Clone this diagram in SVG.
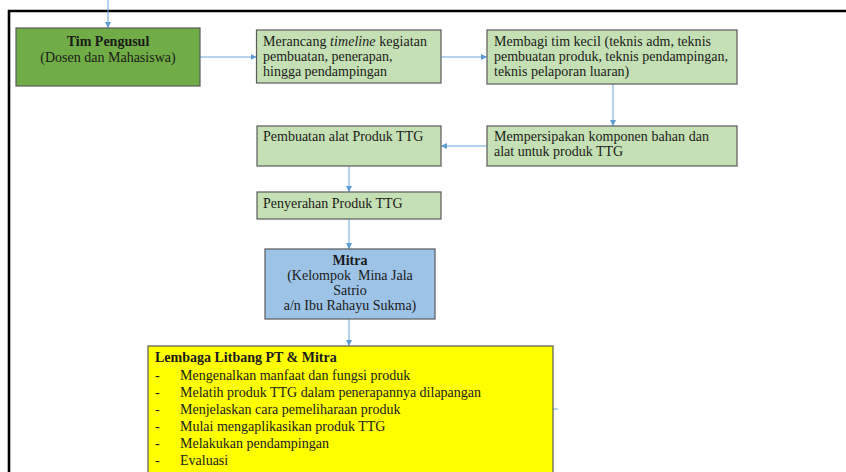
<svg xmlns="http://www.w3.org/2000/svg" width="846" height="472" viewBox="0 0 846 472">
<style>
.box{stroke:#5a5a5a;stroke-width:1.2}
.g{fill:#c5e0b4}
.t{font-family:"Liberation Serif","Times New Roman",serif;font-size:14px;fill:#1a1a1a}
.b{font-weight:bold}
.c{text-anchor:middle}
.con{stroke:#6fa8dc;stroke-width:1;fill:none}
</style>
<defs>
<marker id="ah" viewBox="0 0 6 6" refX="6" refY="3" markerWidth="6" markerHeight="6" orient="auto" markerUnits="userSpaceOnUse">
<path d="M0,0 L6,3 L0,6 z" fill="#5b9bd5"/>
</marker>
</defs>
<rect width="846" height="472" fill="#ffffff"/>
<g id="frame">
<line x1="8" y1="11" x2="846" y2="11" stroke="#000" stroke-width="2.6"/>
<line x1="9" y1="10" x2="9" y2="472" stroke="#000" stroke-width="2.6"/>
</g>
<g id="connectors">
<line class="con" x1="108" y1="0" x2="108" y2="28" marker-end="url(#ah)"/>
<line class="con" x1="200" y1="57" x2="256.5" y2="57" marker-end="url(#ah)"/>
<line class="con" x1="441" y1="57" x2="487" y2="57" marker-end="url(#ah)"/>
<line class="con" x1="613" y1="84" x2="613" y2="126" marker-end="url(#ah)"/>
<line class="con" x1="487" y1="146" x2="441" y2="146" marker-end="url(#ah)"/>
<line class="con" x1="349" y1="166" x2="349" y2="192" marker-end="url(#ah)"/>
<line class="con" x1="349" y1="219" x2="349" y2="249" marker-end="url(#ah)"/>
<line class="con" x1="349" y1="319" x2="349" y2="346" marker-end="url(#ah)"/>
<line class="con" x1="553" y1="409" x2="558" y2="409"/>
</g>
<g id="tim-pengusul">
<rect class="box" x="16" y="28" width="184" height="58" fill="#70ad47"/>
<text class="t b c" x="108" y="46">Tim Pengusul</text>
<text class="t c" x="108" y="62">(Dosen dan Mahasiswa)</text>
</g>
<g id="merancang">
<rect class="box g" x="256.5" y="30" width="184.5" height="53"/>
<text class="t" x="263" y="46" textLength="164" lengthAdjust="spacing">Merancang <tspan font-style="italic">timeline</tspan> kegiatan</text>
<text class="t" x="263" y="61">pembuatan, penerapan,</text>
<text class="t" x="263" y="76">hingga pendampingan</text>
</g>
<g id="membagi">
<rect class="box g" x="487" y="30" width="250" height="54"/>
<text class="t" x="494" y="46" textLength="217" lengthAdjust="spacing">Membagi tim kecil (teknis adm, teknis</text>
<text class="t" x="494" y="61" textLength="234" lengthAdjust="spacing">pembuatan produk, teknis pendampingan,</text>
<text class="t" x="494" y="76">teknis pelaporan luaran)</text>
</g>
<g id="mempersiapkan">
<rect class="box g" x="487" y="126" width="250" height="40"/>
<text class="t" x="494" y="141" textLength="215" lengthAdjust="spacing">Mempersipakan komponen bahan dan</text>
<text class="t" x="494" y="156">alat untuk produk TTG</text>
</g>
<g id="pembuatan">
<rect class="box g" x="257" y="126" width="184" height="40"/>
<text class="t" x="263" y="141">Pembuatan alat Produk TTG</text>
</g>
<g id="penyerahan">
<rect class="box g" x="257" y="192" width="184" height="27"/>
<text class="t" x="263" y="208">Penyerahan Produk TTG</text>
</g>
<g id="mitra">
<rect class="box" x="265" y="249" width="170" height="70" fill="#9dc3e6"/>
<text class="t b c" x="350" y="265">Mitra</text>
<text class="t c" x="350" y="280" xml:space="preserve">(Kelompok  Mina Jala</text>
<text class="t c" x="350" y="295">Satrio</text>
<text class="t c" x="350" y="310">a/n Ibu Rahayu Sukma)</text>
</g>
<g id="lembaga">
<rect class="box" x="148" y="346" width="405" height="140" fill="#ffff00"/>
<text class="t b" x="155" y="362">Lembaga Litbang PT &amp; Mitra</text>
<text class="t" x="155" y="380">-</text><text class="t" x="180" y="380">Mengenalkan manfaat dan fungsi produk</text>
<text class="t" x="155" y="397">-</text><text class="t" x="180" y="397">Melatih produk TTG dalam penerapannya dilapangan</text>
<text class="t" x="155" y="414">-</text><text class="t" x="180" y="414">Menjelaskan cara pemeliharaan produk</text>
<text class="t" x="155" y="431">-</text><text class="t" x="180" y="431">Mulai mengaplikasikan produk TTG</text>
<text class="t" x="155" y="448">-</text><text class="t" x="180" y="448">Melakukan pendampingan</text>
<text class="t" x="155" y="465">-</text><text class="t" x="180" y="465">Evaluasi</text>
</g>
</svg>
